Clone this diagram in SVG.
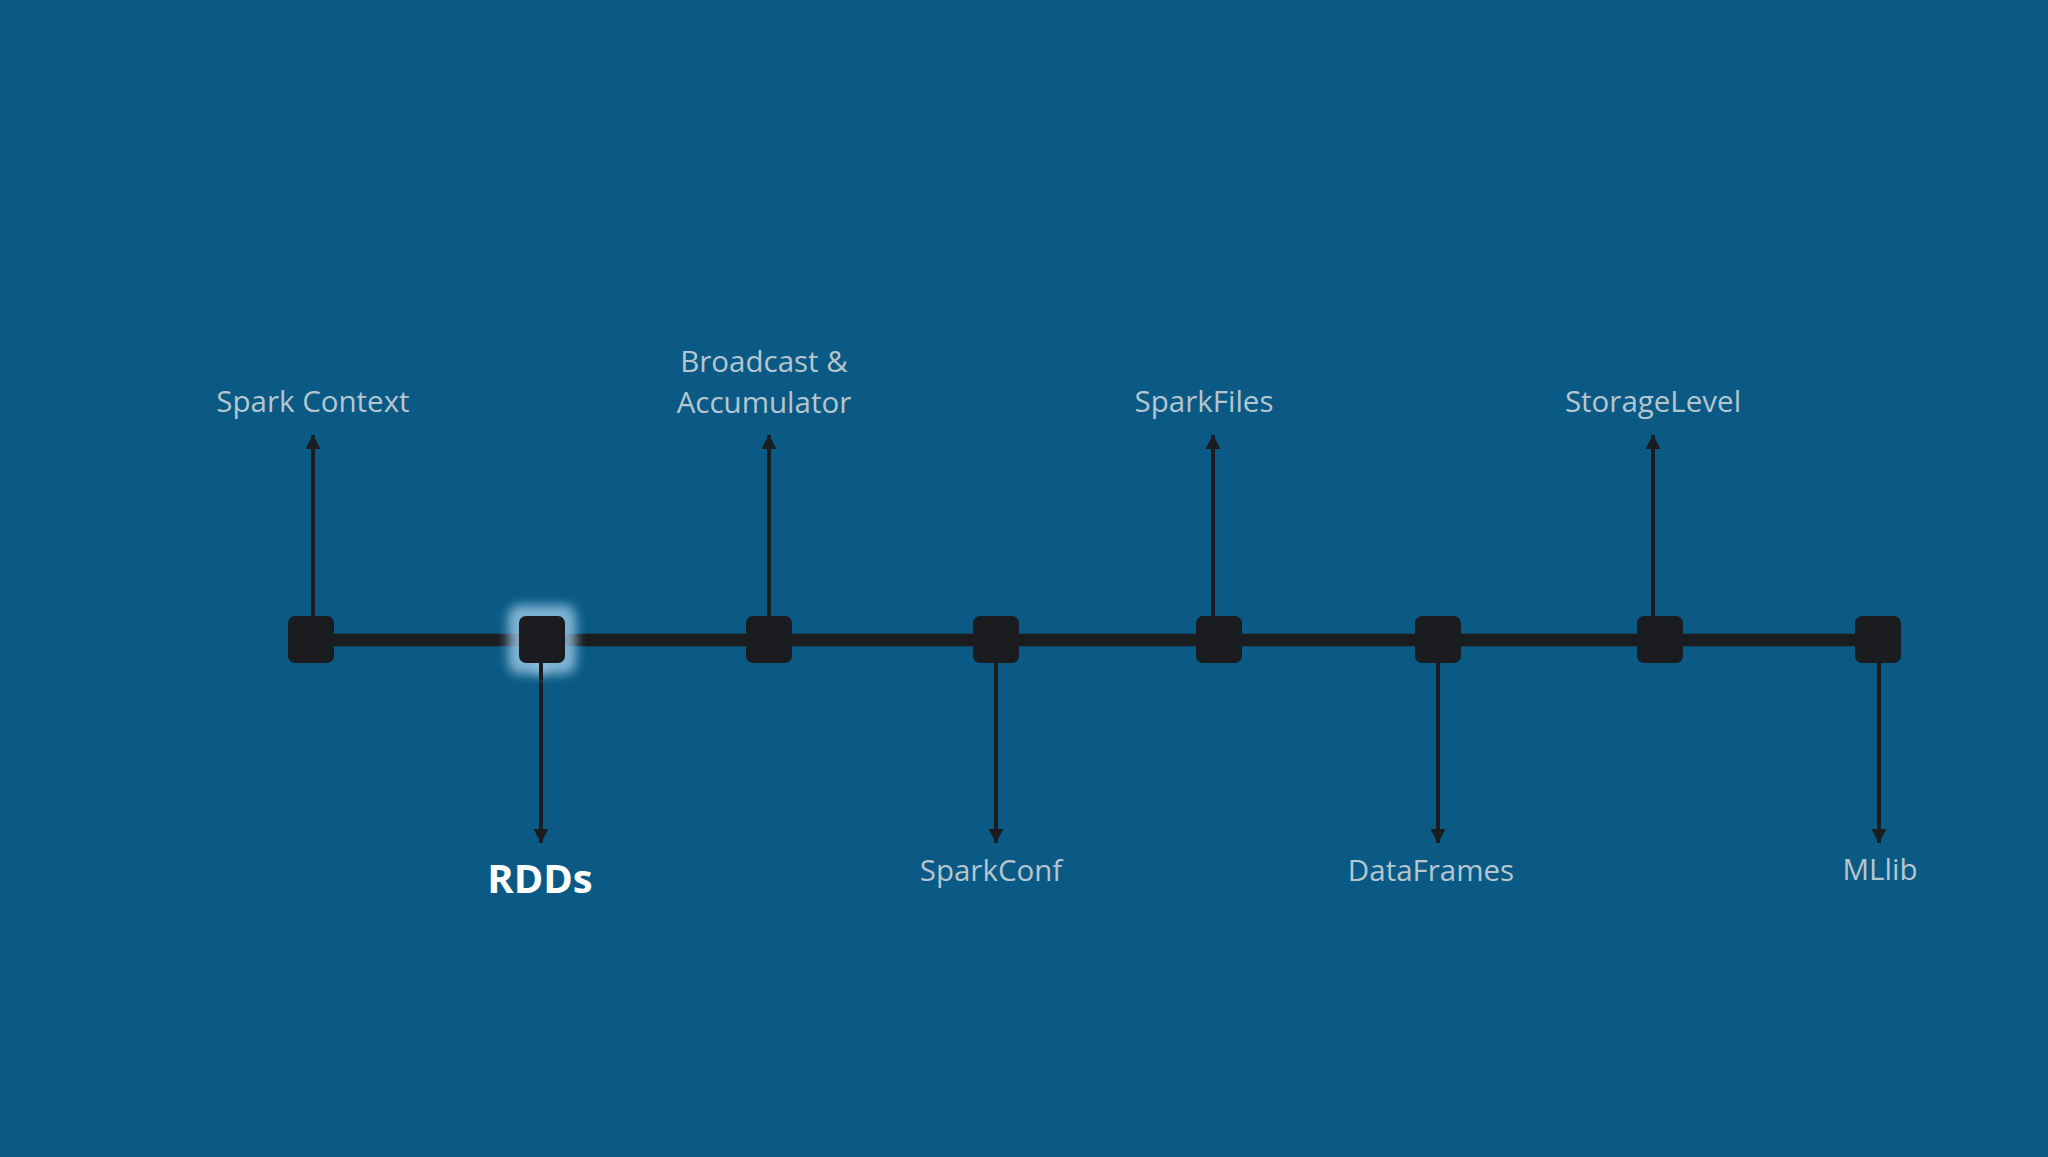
<svg xmlns="http://www.w3.org/2000/svg" width="2048" height="1157" viewBox="0 0 2048 1157">
  <defs>
    <style>
      .bg { fill: #0a5a85; }
      .sq { fill: #1a1c1f; }
      .spine { stroke: #1a1c1f; stroke-width: 12.5; fill: none; }
      .arr { stroke: #1a1c1f; stroke-width: 4; fill: none; marker-end: url(#head); }
      .lbl { font-family: "Open Sans", "Noto Sans", sans-serif; font-size: 29.5px; fill: #b6c6cf; text-anchor: middle; }
      .hl { font-family: "Open Sans", "Noto Sans", sans-serif; font-size: 40px; font-weight: bold; fill: #ffffff; text-anchor: middle; }
    </style>
    <marker id="head" markerUnits="userSpaceOnUse" markerWidth="15" markerHeight="15" viewBox="0 0 15 15" refX="14" refY="7.5" orient="auto">
      <path d="M0,0 L14,7.5 L0,15 Z" fill="#1a1c1f"/>
    </marker>
    <filter id="glow" x="-50%" y="-50%" width="200%" height="200%">
      <feGaussianBlur stdDeviation="5.5"/>
    </filter>
  </defs>

  <rect class="bg" x="0" y="0" width="2048" height="1157"/>

  <g id="connectors">
    <line class="spine" x1="311" y1="640" x2="1878" y2="640"/>
    <line class="arr" x1="313" y1="616" x2="313" y2="435"/>
    <line class="arr" x1="541" y1="663" x2="541" y2="843"/>
    <line class="arr" x1="769" y1="616" x2="769" y2="435"/>
    <line class="arr" x1="996" y1="663" x2="996" y2="843"/>
    <line class="arr" x1="1213" y1="616" x2="1213" y2="435"/>
    <line class="arr" x1="1438" y1="663" x2="1438" y2="843"/>
    <line class="arr" x1="1653" y1="616" x2="1653" y2="435"/>
    <line class="arr" x1="1879" y1="663" x2="1879" y2="843"/>
  </g>

  <g id="node-spark-context">
    <rect class="sq" x="288" y="616" width="46" height="47" rx="7"/>
    <text class="lbl" x="313" y="412">Spark Context</text>
  </g>

  <g id="node-rdds">
    <rect x="508" y="605" width="68" height="69" rx="12" fill="#9ccbe8" opacity="0.8" filter="url(#glow)"/>
    <rect x="534" y="658" width="14" height="16" rx="6" fill="#9ccbe8" opacity="0.7" filter="url(#glow)"/>
    <rect class="sq" x="519" y="616" width="46" height="47" rx="7"/>
    <line x1="541" y1="662" x2="541" y2="680" stroke="#1a1c1f" stroke-width="4"/>
    <text class="hl" x="540" y="893">RDDs</text>
  </g>

  <g id="node-broadcast">
    <rect class="sq" x="746" y="616" width="46" height="47" rx="7"/>
    <text class="lbl" x="764" y="372">Broadcast &amp;</text>
    <text class="lbl" x="764" y="413">Accumulator</text>
  </g>

  <g id="node-sparkconf">
    <rect class="sq" x="973" y="616" width="46" height="47" rx="7"/>
    <text class="lbl" x="991" y="881">SparkConf</text>
  </g>

  <g id="node-sparkfiles">
    <rect class="sq" x="1196" y="616" width="46" height="47" rx="7"/>
    <text class="lbl" x="1204" y="412">SparkFiles</text>
  </g>

  <g id="node-dataframes">
    <rect class="sq" x="1415" y="616" width="46" height="47" rx="7"/>
    <text class="lbl" x="1431" y="881">DataFrames</text>
  </g>

  <g id="node-storagelevel">
    <rect class="sq" x="1637" y="616" width="46" height="47" rx="7"/>
    <text class="lbl" x="1653" y="412">StorageLevel</text>
  </g>

  <g id="node-mllib">
    <rect class="sq" x="1855" y="616" width="46" height="47" rx="7"/>
    <text class="lbl" x="1880" y="880">MLlib</text>
  </g>
</svg>
